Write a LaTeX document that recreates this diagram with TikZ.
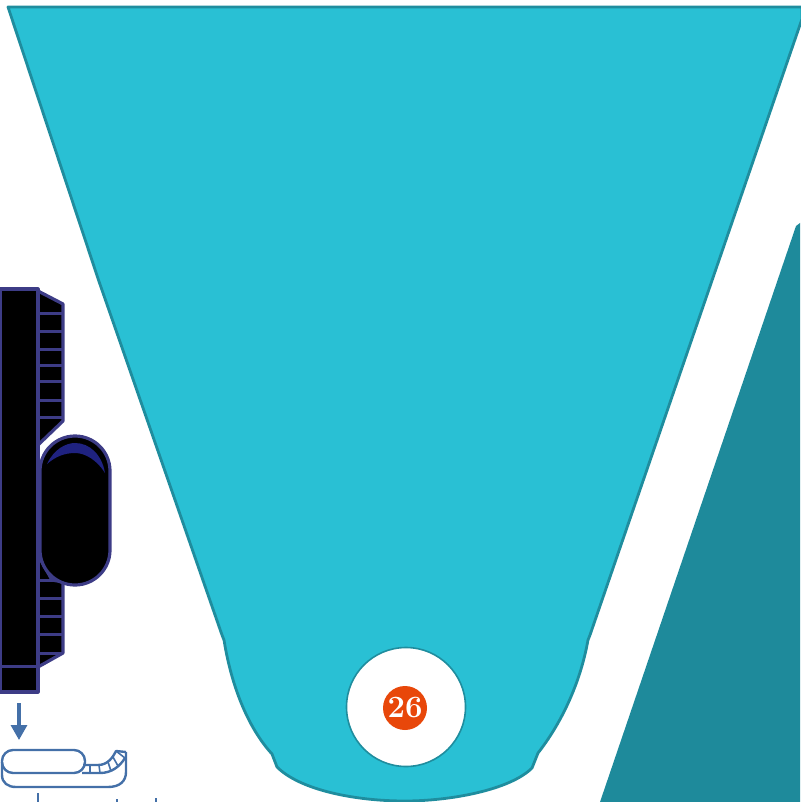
\documentclass[tikz,border=0pt]{standalone}
\usepackage{tikz}
\usetikzlibrary{arrows.meta}
\definecolor{bowlfill}{HTML}{29C0D4}
\definecolor{bowledge}{HTML}{1F8D9E}
\definecolor{slabfill}{HTML}{1E8A9B}
\definecolor{toolline}{HTML}{3D3C86}
\definecolor{crescent}{HTML}{1F2280}
\definecolor{iconblue}{HTML}{4470A8}
\definecolor{badgefill}{HTML}{E8470A}

\begin{document}
\begin{tikzpicture}[
  x=1pt, y=-1pt,
  bowl/.style={draw=bowledge, fill=bowlfill, line width=2.8pt, line join=round},
  tool/.style={draw=toolline, fill=black, line width=3.2pt, line join=round},
  rung/.style={toolline, line width=3pt},
  icon/.style={draw=iconblue, line width=2.4pt, line join=round},
  stub/.style={iconblue, line width=2.4pt},
  hole/.style={circle, draw=bowledge, fill=white, line width=1.6pt, minimum size=119pt, inner sep=0pt},
  badge/.style={circle, fill=badgefill, text=white, minimum size=44pt, inner sep=0pt,
                font=\fontsize{31}{31}\selectfont\bfseries}
]
\useasboundingbox (0,0) rectangle (800,802);
% slab on the right
\fill[slabfill] (800,223) -- (796,226) -- (600,802) -- (800,802) -- cycle;
% bowl
\draw[bowl] (8,7) -- (802,7) -- (802,19) -- (590,635) -- (588,640)
  .. controls (580,685) and (560,725) .. (538,753) -- (532,768)
  .. controls (510,790) and (450,801) .. (405,801)
  .. controls (355,801) and (300,790) .. (277,767) -- (272,754)
  .. controls (250,730) and (232,690) .. (224,640) -- (222,635) -- (98.5,280) -- cycle;
\node[hole] (hole) at (406,707) {};
\node[badge] (badge) at (405,708) {26};
% comb
\draw[tool] (38,291) -- (63,304) -- (63,421) -- (38,445) -- (38,555)
  -- (52,580) -- (63,582) -- (63,653) -- (38,667) -- cycle;
\foreach \y in {313,331,349,365,381,400,417,580,598,616,634,653}
  \path[draw, rung] (38,\y) -- (63,\y);
% handle
\draw[tool] (0,289) rectangle (38,692);
\path[draw, rung] (0,666) -- (38,666);
\draw[tool] (40,471) arc[start angle=180, end angle=360, x radius=35, y radius=35]
  -- (110,550) arc[start angle=0, end angle=180, x radius=35, y radius=35] -- cycle;
\fill[crescent] (47,464) .. controls (54,449) and (66,443) .. (75,443)
  .. controls (90,443) and (102,455) .. (105,473)
  .. controls (97,460) and (85,453) .. (75,453)
  .. controls (64,453) and (55,457) .. (47,464) -- cycle;
% arrow down to the tray
\coordinate (arrowtop) at (19,703);
\coordinate (arrowend) at (19,740);
\draw[iconblue, line width=3.2pt, -{Triangle[length=15pt, width=16pt]}] (arrowtop) -- (arrowend);
% tray
\draw[icon, rounded corners=11pt] (2,750) rectangle (85,773);
\draw[icon] (2,762) -- (2,775) .. controls (2,783) and (8,787) .. (16,787)
  -- (108,787) .. controls (120,787) and (126,781) .. (126,772) -- (126,752);
\draw[icon] (83,765) -- (98,765) .. controls (108,765) and (113,757) .. (116,751) -- (126,752);
\draw[icon] (82,773) -- (100,773) .. controls (112,773) and (120,766) .. (125,758);
\foreach \xa/\ya/\xb/\yb in {90/765/90/773, 99/765/100/773, 108/762/111/771, 113/757/118/766, 116/751/125/758}
  \draw[icon, line width=1.6pt] (\xa,\ya) -- (\xb,\yb);
% stubs along the bottom edge
\draw[stub] (38,793) -- (38,802);
\draw[stub] (117,799) -- (117,802);
\draw[stub] (156,798) -- (156,802);
\end{tikzpicture}
\end{document}
